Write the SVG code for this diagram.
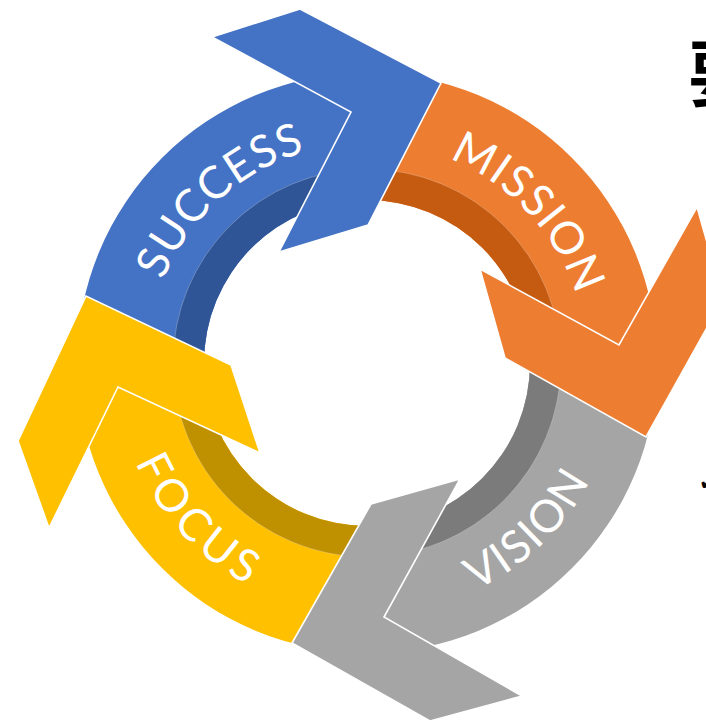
<svg xmlns="http://www.w3.org/2000/svg" width="706" height="721" viewBox="0 0 706 721">
  <style>
    .lbl { font-family: Lato, "Liberation Sans", sans-serif; font-weight: 400; font-size: 45px; fill: #ffffff; }
    .head { stroke: #ffffff; stroke-width: 1.6; stroke-linejoin: miter; }
    .seam { fill: none; stroke: #ffffff; stroke-opacity: 0.25; stroke-width: 1; }
    .blue { fill: #4472C4; } .blue-d { fill: #2F5597; }
    .orange { fill: #ED7D31; } .orange-d { fill: #C55A11; }
    .gray { fill: #A5A5A5; } .gray-d { fill: #7B7B7B; }
    .yellow { fill: #FFC000; } .yellow-d { fill: #BF9000; }
    .cjk { font-family: "Noto Sans CJK SC", sans-serif; font-weight: 700; fill: #000000; }
  </style>
  <defs>
    <path id="p-success" d="M 149.1,332.4 A 220 220 0 0 1 359.3,143.1"/>
    <path id="p-mission" d="M 393.8,144.6 A 220 220 0 0 1 586.7,351.5"/>
    <path id="p-vision" d="M 384.6,614.4 A 252 252 0 0 0 617.6,389.3"/>
    <path id="p-focus" d="M 115.3,376.2 A 252 252 0 0 0 336.3,613.1"/>
  </defs>
  <rect width="706" height="721" fill="#ffffff"/>

  <g id="success">
    <path class="blue" d="M 77,363 A 290 290 0 0 1 367,73 L 367,200 A 163 163 0 0 0 204,363 Z"/>
    <path class="blue-d" d="M 173,363 A 194 194 0 0 1 367,169 L 367,200 A 163 163 0 0 0 204,363 Z"/>
  </g>
  <g id="mission">
    <path class="orange" d="M 367,73 A 290 290 0 0 1 657,363 L 530,363 A 163 163 0 0 0 367,200 Z"/>
    <path class="orange-d" d="M 367,169 A 194 194 0 0 1 561,363 L 530,363 A 163 163 0 0 0 367,200 Z"/>
  </g>
  <g id="vision">
    <path class="gray" d="M 657,363 A 290 290 0 0 1 367,653 L 367,526 A 163 163 0 0 0 530,363 Z"/>
    <path class="gray-d" d="M 561,363 A 194 194 0 0 1 367,557 L 367,526 A 163 163 0 0 0 530,363 Z"/>
  </g>
  <g id="focus">
    <path class="yellow" d="M 367,653 A 290 290 0 0 1 77,363 L 204,363 A 163 163 0 0 0 367,526 Z"/>
    <path class="yellow-d" d="M 367,557 A 194 194 0 0 1 173,363 L 204,363 A 163 163 0 0 0 367,526 Z"/>
  </g>
  <circle class="seam" cx="367" cy="363" r="194"/>

  <g id="connectors">
    <polygon class="head blue" points="441,83 300,9 212,37 351,112 279,252 368,225"/>
    <polygon class="head orange" points="646,437 723,299 697,207 619,345 480,269 505,358"/>
    <polygon class="head gray" points="292,643 430,721 522,696 384,617 460,479 371,504"/>
    <polygon class="head yellow" points="86,296 18,441 49,528 118,387 260,453 231,365"/>
  </g>

  <g id="labels">
    <text class="lbl" letter-spacing="1"><textPath href="#p-success" startOffset="50%" text-anchor="middle">SUCCESS</textPath></text>
    <text class="lbl" letter-spacing="1"><textPath href="#p-mission" startOffset="50%" text-anchor="middle">MISSION</textPath></text>
    <text class="lbl" letter-spacing="2"><textPath href="#p-vision" startOffset="50%" text-anchor="middle">VISION</textPath></text>
    <text class="lbl" letter-spacing="5"><textPath href="#p-focus" startOffset="50%" text-anchor="middle">FOCUS</textPath></text>
  </g>

  <g id="side-text">
    <text class="cjk" x="688" y="100" font-size="72">要</text>
    <text x="699" y="490" font-family="DejaVu Sans, sans-serif" font-size="22" fill="#000000">✔</text>
  </g>
</svg>
